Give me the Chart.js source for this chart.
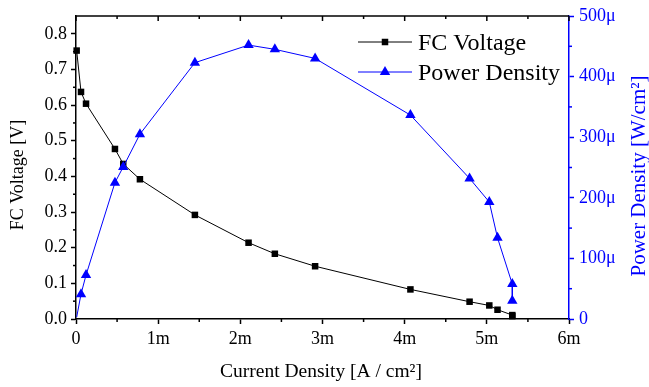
<!DOCTYPE html>
<html>
<head>
<meta charset="utf-8">
<script src="https://cdn.jsdelivr.net/npm/chart.js@4/dist/chart.umd.min.js"></script>
<style>
  html, body { margin: 0; padding: 0; background: #fff; }
  #c { display: block; }
</style>
</head>
<body>
<canvas id="c" width="649" height="387"></canvas>
<script>
// ---- data (current density in mA/cm², voltage in V, power in µW/cm²) ----
const currentDensity = [0.008, 0.061, 0.122, 0.474, 0.575, 0.778, 1.447, 2.10, 2.42, 2.91, 4.07, 4.79, 5.03, 5.13, 5.31, 5.31];
const fcVoltage      = [0.753, 0.637, 0.604, 0.477, 0.435, 0.392, 0.292, 0.214, 0.183, 0.148, 0.083, 0.0485, 0.038, 0.026, 0.011, 0.008];
const powerDensity   = [3, 41, 72.5, 225, 251, 305, 423, 452, 445, 430, 336.5, 232, 193, 134, 57.6, 30];
const seriesNames    = ['FC Voltage', 'Power Density'];

const xTicks      = [0, 1, 2, 3, 4, 5, 6];
const xTickLabels = ['0', '1m', '2m', '3m', '4m', '5m', '6m'];
const xMinor      = [0.5, 1.5, 2.5, 3.5, 4.5, 5.5];
const yTicks      = [0, 0.1, 0.2, 0.3, 0.4, 0.5, 0.6, 0.7, 0.8];
const yTickLabels = ['0.0', '0.1', '0.2', '0.3', '0.4', '0.5', '0.6', '0.7', '0.8'];
const yMinor      = [0.05, 0.15, 0.25, 0.35, 0.45, 0.55, 0.65, 0.75];
const y1Ticks      = [0, 100, 200, 300, 400, 500];
const y1TickLabels = ['0', '100\u03bc', '200\u03bc', '300\u03bc', '400\u03bc', '500\u03bc'];
const y1Minor      = [50, 150, 250, 350, 450];

const xTitle  = 'Current Density [A / cm\u00b2]';
const yTitle  = 'FC Voltage [V]';
const y1Title = 'Power Density [W/cm\u00b2]';

const BLUE = '#0000ff';
const FONT = "'Liberation Serif', 'Times New Roman', serif";

function pts(xs, ys) { return xs.map((v, i) => ({ x: v, y: ys[i] })); }

function drawMarker(ctx, style, x, y, r, color) {
  ctx.fillStyle = color;
  ctx.beginPath();
  if (style === 'rect') {
    const s = Math.SQRT1_2 * r;
    ctx.rect(x - s, y - s, 2 * s, 2 * s);
  } else {
    const a = Math.PI / 6;
    ctx.moveTo(x, y - r);
    ctx.lineTo(x + Math.cos(a) * r, y + Math.sin(a) * r);
    ctx.lineTo(x - Math.cos(a) * r, y + Math.sin(a) * r);
    ctx.closePath();
  }
  ctx.fill();
}

const decor = {
  id: 'decor',
  afterDraw(chart) {
    const { ctx, chartArea: a, scales: { x, y, y1 } } = chart;
    ctx.save();
    ctx.lineWidth = 1.5;
    const seg = (x0, y0, x1, y1_) => { ctx.beginPath(); ctx.moveTo(x0, y0); ctx.lineTo(x1, y1_); ctx.stroke(); };
    // top frame + inward ticks
    ctx.strokeStyle = '#000';
    seg(a.left, a.top, a.right, a.top);
    xTicks.forEach(v => { const p = x.getPixelForValue(v); seg(p, a.top, p, a.top + 5); });
    xMinor.forEach(v => { const p = x.getPixelForValue(v); seg(p, a.top, p, a.top + 3); seg(p, a.bottom, p, a.bottom + 3); });
    yMinor.forEach(v => { const p = y.getPixelForValue(v); seg(a.left, p, a.left - 3, p); });
    ctx.strokeStyle = BLUE;
    y1Minor.forEach(v => { const p = y1.getPixelForValue(v); seg(a.right, p, a.right + 3, p); });

    // titles
    ctx.textAlign = 'center';
    ctx.textBaseline = 'middle';
    ctx.fillStyle = '#000';
    ctx.font = '19.5px ' + FONT;
    ctx.fillText(xTitle, 321, 372);
    ctx.save();
    ctx.font = '18px ' + FONT;
    ctx.translate(18, 175);
    ctx.rotate(-Math.PI / 2);
    ctx.fillText(yTitle, 0, 0);
    ctx.restore();
    ctx.save();
    ctx.fillStyle = BLUE;
    ctx.font = '21px ' + FONT;
    ctx.translate(639, 176);
    ctx.rotate(-Math.PI / 2);
    ctx.fillText(y1Title, 0, 0);
    ctx.restore();

    // legend
    const items = [
      { label: seriesNames[0], color: '#000', style: 'rect', r: 4.6, y: 42 },
      { label: seriesNames[1], color: BLUE, style: 'triangle', r: 6, y: 72 }
    ];
    ctx.font = '24px ' + FONT;
    ctx.textAlign = 'left';
    ctx.textBaseline = 'alphabetic';
    items.forEach(it => {
      ctx.strokeStyle = it.color;
      ctx.lineWidth = 1;
      seg(358, it.y, 412, it.y);
      drawMarker(ctx, it.style, 385, it.y, it.r, it.color);
      ctx.fillStyle = '#000';
      ctx.fillText(it.label, 418, it.y + 8.3);
    });
    ctx.restore();
  }
};

const setTicks = (vals) => (scale) => { scale.ticks = vals.map(v => ({ value: v })); };

new Chart(document.getElementById('c'), {
  type: 'line',
  data: {
    datasets: [
      {
        label: seriesNames[0],
        data: pts(currentDensity, fcVoltage),
        yAxisID: 'y',
        borderColor: '#000',
        backgroundColor: '#000',
        borderWidth: 1,
        pointStyle: 'rect',
        pointRadius: 4.6,
        pointBorderWidth: 0,
        tension: 0,
        clip: false,
        order: 1
      },
      {
        label: seriesNames[1],
        data: pts(currentDensity, powerDensity),
        yAxisID: 'y1',
        borderColor: BLUE,
        backgroundColor: BLUE,
        borderWidth: 1,
        pointStyle: 'triangle',
        pointRadius: (c) => (c.dataIndex === 0 ? 0 : 6),
        pointBorderWidth: 0,
        tension: 0,
        clip: false,
        order: 0
      }
    ]
  },
  options: {
    responsive: false,
    animation: false,
    devicePixelRatio: 1,
    layout: { padding: { top: 16, left: 0, right: 0, bottom: 0 } },
    plugins: { legend: { display: false }, tooltip: { enabled: false } },
    scales: {
      x: {
        type: 'linear', min: 0, max: 6,
        afterBuildTicks: setTicks(xTicks),
        afterFit: (s) => { s.height = 68; },
        ticks: { callback: (v, i) => xTickLabels[i], font: { family: FONT, size: 18 }, color: '#000', padding: 4, maxRotation: 0 },
        grid: { display: true, drawOnChartArea: false, drawTicks: true, tickLength: 5, tickWidth: 1.5, color: '#000' },
        border: { display: true, color: '#000', width: 1.5 }
      },
      y: {
        type: 'linear', position: 'left', min: 0, max: 0.85,
        afterBuildTicks: setTicks(yTicks),
        afterFit: (s) => { s.width = 76; },
        ticks: { callback: (v, i) => yTickLabels[i], font: { family: FONT, size: 18 }, color: '#000', padding: 4 },
        grid: { display: true, drawOnChartArea: false, drawTicks: true, tickLength: 5, tickWidth: 1.5, color: '#000' },
        border: { display: true, color: '#000', width: 1.5 }
      },
      y1: {
        type: 'linear', position: 'right', min: 0, max: 500,
        afterBuildTicks: setTicks(y1Ticks),
        afterFit: (s) => { s.width = 80; },
        ticks: { callback: (v, i) => y1TickLabels[i], font: { family: FONT, size: 18 }, color: BLUE, padding: 5 },
        grid: { display: true, drawOnChartArea: false, drawTicks: true, tickLength: 5, tickWidth: 1.5, color: BLUE },
        border: { display: true, color: BLUE, width: 1.5 }
      }
    }
  },
  plugins: [decor]
});
</script>
</body>
</html>
